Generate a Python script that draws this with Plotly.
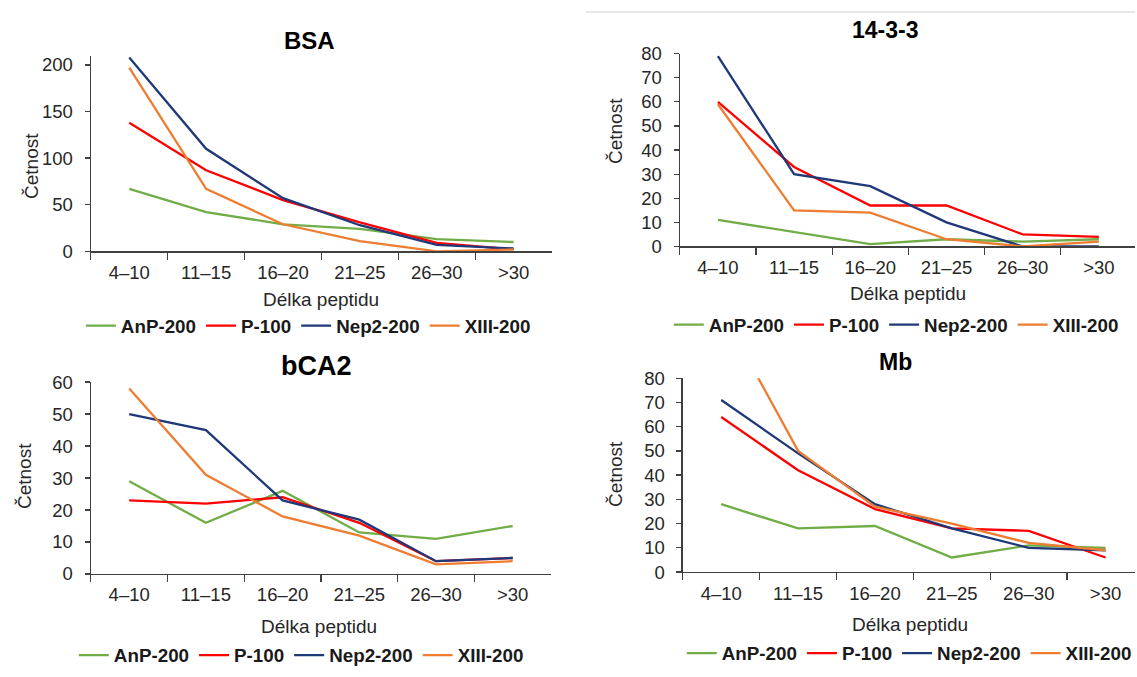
import plotly.graph_objects as go

W, H = 1137, 677

categories = ["4–10", "11–15", "16–20", "21–25", "26–30", ">30"]
series_names = ["AnP-200", "P-100", "Nep2-200", "XIII-200"]
series_colors = ["#70AD47", "#FF0000", "#1F3879", "#ED7D31"]

# BSA
bsa_anp = [67, 42, 29, 24, 13, 10]
bsa_p100 = [138, 87, 55, 31, 9, 2]
bsa_nep2 = [208, 110, 57, 28, 7, 3]
bsa_xiii = [197, 67, 29, 11, 0, 2]

# 14-3-3
p1433_anp = [11, 6, 1, 3, 2, 3]
p1433_p100 = [60, 33, 17, 17, 5, 4]
p1433_nep2 = [79, 30, 25, 10, 0, 0]
p1433_xiii = [59, 15, 14, 3, 0, 2]

# bCA2
bca2_anp = [29, 16, 26, 13, 11, 15]
bca2_p100 = [23, 22, 24, 16, 4, 5]
bca2_nep2 = [50, 45, 23, 17, 4, 5]
bca2_xiii = [58, 31, 18, 12, 3, 4]

# Mb
mb_anp = [28, 18, 19, 6, 11, 10]
mb_p100 = [64, 42, 26, 18, 17, 6]
mb_nep2 = [71, 49, 28, 18, 10, 9]
mb_xiii = [108, 50, 27, 20, 12, 9]

y_title = "Četnost"
x_title = "Délka peptidu"

FONT = "Liberation Sans, Arial, sans-serif"
AX = "#404040"
TXT = "#262626"


def px_x(p):
    return p / W


def px_y(p):
    return 1 - p / H


panels = [
    dict(title="BSA", data=[bsa_anp, bsa_p100, bsa_nep2, bsa_xiii],
         yr=[0, 210], dtick=50, xd=[91, 553], yd=[46, 248], xr=[-0.5, 5.5],
         tpos=(310, 30), tsize=24, ypos=(31, 160), xtpos=(322, 298), leg=(81, 325)),
    dict(title="14-3-3", data=[p1433_anp, p1433_p100, p1433_nep2, p1433_xiii],
         yr=[0, 80], dtick=10, xd=[681, 1137], yd=[44, 243], xr=[-0.5, 5.474],
         tpos=(887, 20), tsize=23, ypos=(616, 124), xtpos=(910, 292), leg=(670, 324)),
    dict(title="bCA2", data=[bca2_anp, bca2_p100, bca2_nep2, bca2_xiii],
         yr=[0, 60], dtick=10, xd=[91, 552], yd=[383, 581], xr=[-0.5, 5.5],
         tpos=(317, 366), tsize=27, ypos=(24, 480), xtpos=(320, 635), leg=(74, 665)),
    dict(title="Mb", data=[mb_anp, mb_p100, mb_nep2, mb_xiii],
         yr=[0, 80], dtick=10, xd=[684, 1137], yd=[379, 579], xr=[-0.5, 5.383],
         tpos=(897, 362), tsize=23, ypos=(616, 478), xtpos=(912, 633), leg=(683, 663)),
]

fig = go.Figure()
layout = dict(
    width=W, height=H,
    margin=dict(l=0, r=0, t=0, b=0),
    paper_bgcolor="white", plot_bgcolor="white",
    font=dict(family=FONT, color=TXT),
    annotations=[], shapes=[],
)

for i, p in enumerate(panels):
    ax = "" if i == 0 else str(i + 1)
    leg = "legend" if i == 0 else f"legend{i + 1}"
    for name, color, vals in zip(series_names, series_colors, p["data"]):
        fig.add_trace(go.Scatter(
            x=categories, y=vals, mode="lines", name=name,
            line=dict(color=color, width=2.3),
            xaxis="x" + ax, yaxis="y" + ax, legend=leg,
            hoverinfo="skip",
        ))
    xdom = [px_x(p["xd"][0]), px_x(p["xd"][1])]
    ydom = [px_y(p["yd"][1]), px_y(p["yd"][0])]
    layout["xaxis" + ax] = dict(
        domain=xdom, anchor="y" + ax, type="category", range=p["xr"],
        categoryorder="array", categoryarray=categories,
        tickson="boundaries", ticks="outside", ticklen=7, tickwidth=1.3,
        tickcolor=AX, showline=True, linecolor=AX, linewidth=1.3,
        showgrid=False, zeroline=False,
        tickfont=dict(family=FONT, size=18.5, color=TXT),
        ticklabelstandoff=4, fixedrange=True,
    )
    layout["yaxis" + ax] = dict(
        domain=ydom, anchor="x" + ax, range=p["yr"], tick0=0, dtick=p["dtick"],
        ticks="outside", ticklen=5, tickwidth=1.3, tickcolor=AX,
        showline=True, linecolor=AX, linewidth=1.3,
        showgrid=False, zeroline=False,
        tickfont=dict(family=FONT, size=18.5, color=TXT),
        ticklabelstandoff=8, fixedrange=True,
    )
    # overlay axis giving the upward half of the crossing tick marks
    layout[f"xaxis{5 + i}"] = dict(
        overlaying="x" + ax, anchor="y" + ax, type="linear", range=p["xr"],
        tickmode="array", tickvals=[k - 0.5 for k in range(len(categories) + 1)],
        ticks="inside", ticklen=6, tickwidth=1.3, tickcolor=AX,
        showticklabels=False, showline=False, showgrid=False, zeroline=False,
        fixedrange=True,
    )
    layout[leg] = dict(
        orientation="h", x=px_x(p["leg"][0]), y=px_y(p["leg"][1]),
        xanchor="left", yanchor="middle",
        font=dict(family=FONT, size=18.8, color="#1a1a1a", weight="bold"),
        bgcolor="rgba(0,0,0,0)", itemclick=False, itemdoubleclick=False,
    )
    layout["annotations"] += [
        dict(text=p["title"], x=px_x(p["tpos"][0]), y=px_y(p["tpos"][1]),
             xref="paper", yref="paper", showarrow=False,
             xanchor="center", yanchor="middle",
             font=dict(family=FONT, size=p["tsize"], color="#000000", weight="bold")),
        dict(text=y_title, x=px_x(p["ypos"][0]), y=px_y(p["ypos"][1]),
             xref="paper", yref="paper", showarrow=False, textangle=-90,
             xanchor="center", yanchor="middle",
             font=dict(family=FONT, size=19, color=TXT)),
        dict(text=x_title, x=px_x(p["xtpos"][0]), y=px_y(p["xtpos"][1]),
             xref="paper", yref="paper", showarrow=False,
             xanchor="center", yanchor="middle",
             font=dict(family=FONT, size=19, color=TXT)),
    ]

layout["shapes"].append(dict(
    type="line", xref="paper", yref="paper",
    x0=px_x(587), x1=1, y0=px_y(1), y1=px_y(1),
    line=dict(color="#E8E8E8", width=2),
))

fig.update_layout(**layout)
fig.write_html(
    "out.html",
    config={"displayModeBar": False, "staticPlot": True},
    post_script="document.body.style.margin='0';document.body.style.overflow='hidden';",
)
